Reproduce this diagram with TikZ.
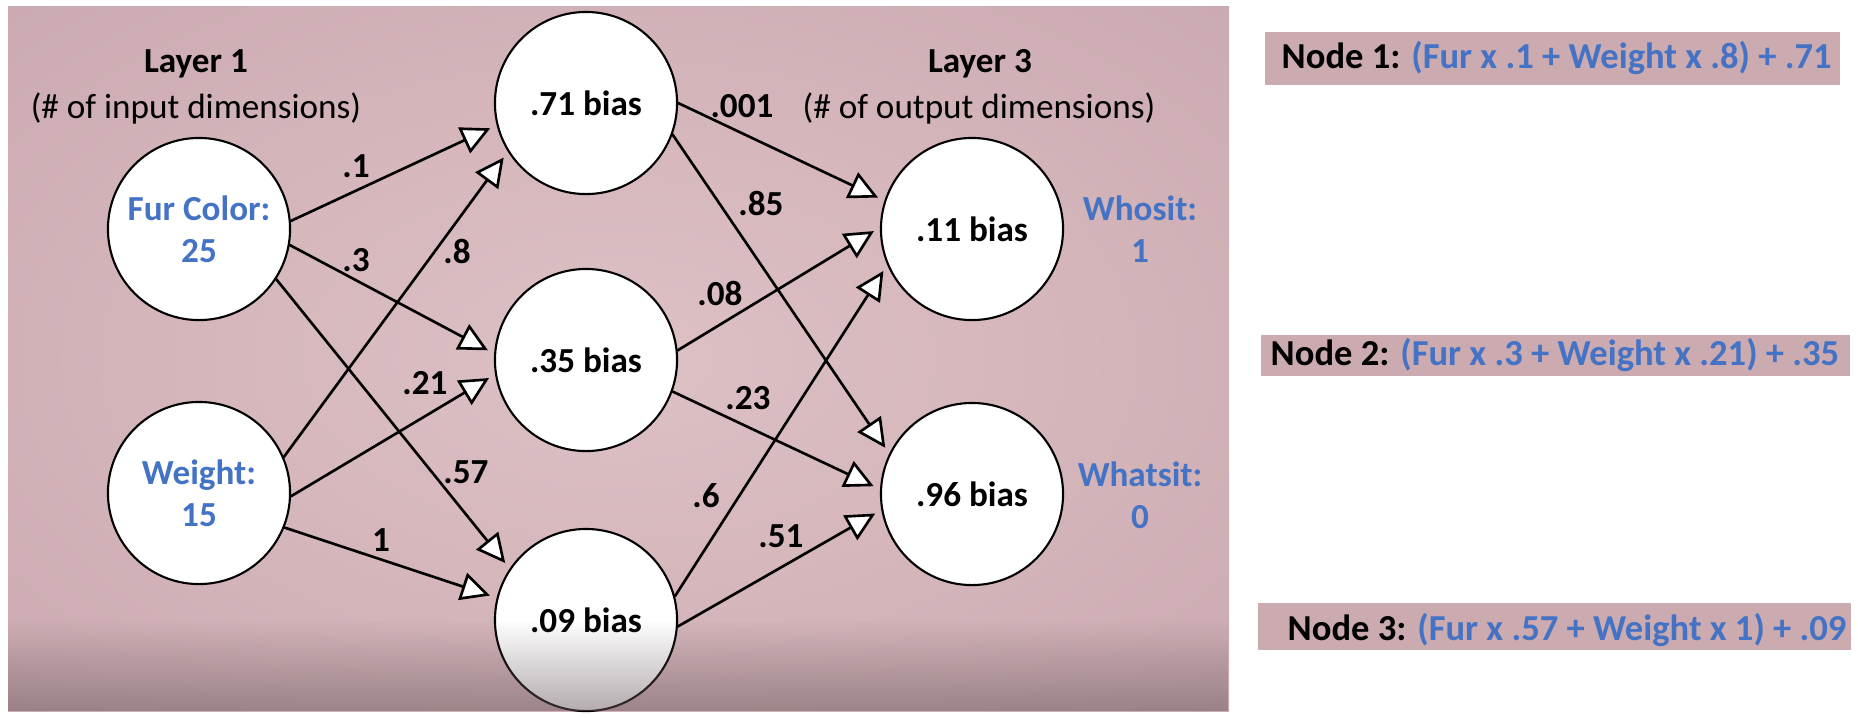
\documentclass[tikz,border=0pt]{standalone}
\usepackage{fontspec}
\setmainfont{Carlito}
\usetikzlibrary{arrows.meta,fadings}
\definecolor{panelin}{RGB}{221,193,197}
\definecolor{panelmid}{RGB}{206,174,180}
\definecolor{panelout}{RGB}{178,150,156}
\definecolor{paneldark}{RGB}{105,88,92}
\definecolor{eqpink}{RGB}{203,170,176}
\definecolor{valblue}{RGB}{68,114,196}
\pgfdeclareradialshading{panelglow}{\pgfpoint{0bp}{0bp}}{color(0bp)=(panelin); color(30bp)=(panelmid); color(71bp)=(panelout)}

\begin{document}
\begin{tikzpicture}[x=0.01cm,y=-0.01cm,line cap=round,line join=round,
    unit/.style={circle,draw=black,line width=0.6pt,fill=white,minimum size=1.82cm,
      inner sep=0pt,align=center,font=\bfseries},
    wt/.style={font=\bfseries,inner sep=0pt},
    conn/.style={line width=0.75pt,shorten >=2pt,
      -{Triangle[length=8.2pt,width=8pt,fill=white]}},
    val/.style={font=\bfseries,text=valblue,align=center},
    eqtxt/.style={font=\fontsize{10.4}{12}\selectfont\bfseries,anchor=west,inner sep=0pt}]
  \useasboundingbox (0,0) rectangle (1858,717);
  \fill[white] (0,0) rectangle (1858,717);
  % slide background
  \shade[shading=panelglow] (8,6) rectangle (1229,711);

  % layers
  \node[unit,text=valblue] (fur) at (199,229) {Fur Color:\\25};
  \node[unit,text=valblue] (wgt) at (199,493) {Weight:\\15};
  \node[unit] (h1) at (586,103) {.71 bias};
  \node[unit] (h2) at (586,360) {.35 bias};
  \node[unit] (h3) at (586,620) {.09 bias};
  \node[unit] (o1) at (972,229) {.11 bias};
  \node[unit] (o2) at (972,494) {.96 bias};

  \node[font=\bfseries] (lay1) at (196,64) {Layer 1};
  \node (dim1) at (196,108) {(\# of input dimensions)};
  \node[font=\bfseries] (lay3) at (980,64) {Layer 3};
  \node (dim3) at (979,108) {(\# of output dimensions)};

  % weights in
  \draw[conn] (fur.5.6) -- (h1.194);
  \draw[conn] (fur.-10.5) -- (h2.176);
  \draw[conn] (fur.-33) -- (h3.146);
  \draw[conn] (wgt.23) -- (h1.212);
  \draw[conn] (wgt.-2.5) -- (h2.189);
  \draw[conn] (wgt.-22) -- (h3.166);
  % weights out
  \draw[conn] (h1.0) -- (o1.162);
  \draw[conn] (h1.-20) -- (o2.154.5);
  \draw[conn] (h2.6) -- (o1.179);
  \draw[conn] (h2.-20.6) -- (o2.177);
  \draw[conn] (h3.15.7) -- (o1.203);
  \draw[conn] (h3.-4.5) -- (o2.190);

  \node[wt] (w11) at (356,166) {.1};
  \node[wt] (w12) at (356,260) {.3};
  \node[wt] (w13) at (466,472) {.57};
  \node[wt] (w21) at (457,251) {.8};
  \node[wt] (w22) at (425,383) {.21};
  \node[wt] (w23) at (381,540) {1};
  \node[wt] (v11) at (742,106) {.001};
  \node[wt] (v12) at (761,203) {.85};
  \node[wt] (v21) at (720,293) {.08};
  \node[wt] (v22) at (748,398) {.23};
  \node[wt] (v31) at (706,496) {.6};
  \node[wt] (v32) at (781,536) {.51};

  \node[val] (whosit) at (1140,229) {Whosit:\\1};
  \node[val] (whatsit) at (1140,495) {Whatsit:\\0};

  % darker bottom edge of the slide
  \fill[paneldark,path fading=north,fill opacity=0.5] (8,620) rectangle (1229,711);

  % sums
  \fill[eqpink] (1265,32) rectangle (1840,85);
  \node[eqtxt] (eq1) at (1281,58) {Node 1:\hspace{0.3em}\textcolor{valblue}{(Fur x .1 + Weight x .8) + .71}};
  \fill[eqpink] (1261,335) rectangle (1850,376);
  \node[eqtxt] (eq2) at (1270,355) {Node 2:\hspace{0.3em}\textcolor{valblue}{(Fur x .3 + Weight x .21) + .35}};
  \fill[eqpink] (1258,603) rectangle (1851,650);
  \node[eqtxt] (eq3) at (1287,630) {Node 3:\hspace{0.3em}\textcolor{valblue}{(Fur x .57 + Weight x 1) + .09}};
\end{tikzpicture}
\end{document}
